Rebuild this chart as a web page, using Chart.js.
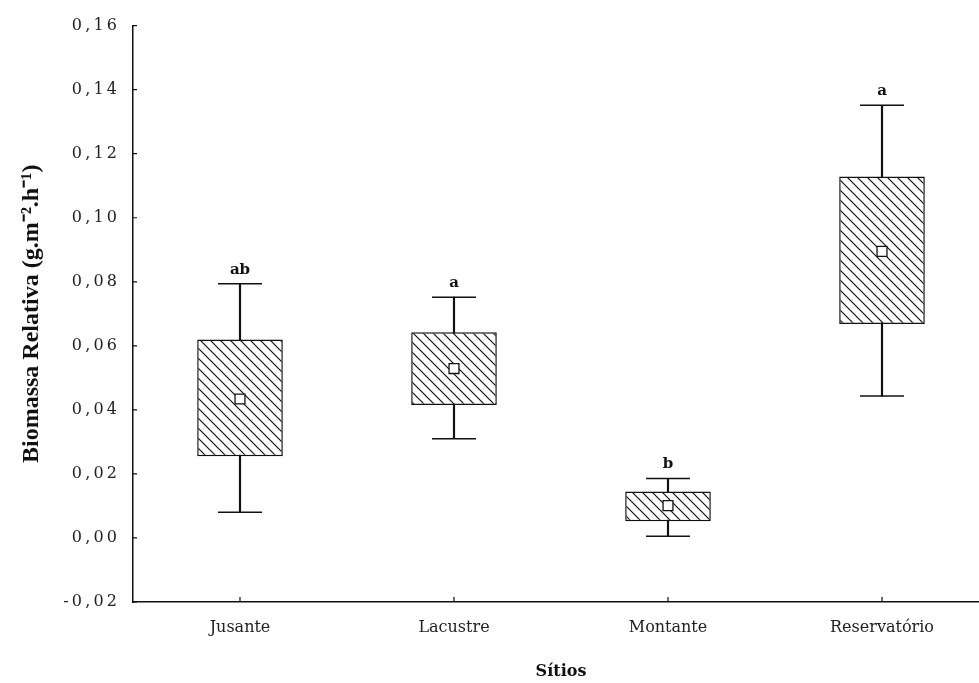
<!DOCTYPE html>
<html>
<head>
<meta charset="utf-8">
<script src="https://cdn.jsdelivr.net/npm/chart.js@4"></script>
<style>
  html, body { margin: 0; padding: 0; background: #fff; overflow: hidden; }
  canvas { display: block; }
</style>
</head>
<body>
<canvas id="boxChart" width="990" height="683"></canvas>
<script>
// data
const categories = ['Jusante', 'Lacustre', 'Montante', 'Reservatório'];
const whiskerLow = [0.008, 0.031, 0.0005, 0.0443];
const boxLow = [0.0255, 0.0415, 0.0052, 0.0668];
const means = [0.0434, 0.0529, 0.0101, 0.0895];
const boxHigh = [0.062, 0.0642, 0.0145, 0.1129];
const whiskerHigh = [0.0794, 0.0752, 0.0186, 0.1351];
const groupLetters = ['ab', 'a', 'b', 'a'];
const yMin = -0.02, yMax = 0.16, yStep = 0.02;

// diagonal hatch for the boxes
function makeHatch() {
    const c = document.createElement('canvas');
    c.width = 10; c.height = 10;
    const g = c.getContext('2d');
    g.fillStyle = '#fff';
    g.fillRect(0, 0, 10, 10);
    g.strokeStyle = '#111';
    g.lineWidth = 1.2;
    g.beginPath();
    g.moveTo(-1, -1); g.lineTo(11, 11);
    g.moveTo(-1, 9); g.lineTo(1, 11);
    g.moveTo(9, -1); g.lineTo(11, 1);
    g.stroke();
    return g.createPattern(c, 'repeat');
}

function fmtTick(v) {
    if (Math.abs(v) < 1e-9) v = 0;
    return v.toFixed(2).replace('.', ',').split('').join('\u2009');
}

// small inward ticks + group letters
const extras = {
    id: 'extras',
    afterDraw(chart) {
        const { ctx, scales: { x, y }, chartArea } = chart;
        ctx.save();
        ctx.strokeStyle = '#111';
        ctx.lineWidth = 1.2;
        ctx.beginPath();
        y.ticks.forEach((t, i) => {
            const py = y.getPixelForTick(i);
            ctx.moveTo(chartArea.left, py);
            ctx.lineTo(chartArea.left + 4, py);
        });
        x.ticks.forEach((t, i) => {
            const px = x.getPixelForTick(i);
            ctx.moveTo(px, chartArea.bottom);
            ctx.lineTo(px, chartArea.bottom - 5);
        });
        ctx.stroke();

        ctx.fillStyle = '#111';
        ctx.font = 'bold 15px "DejaVu Serif"';
        ctx.textAlign = 'center';
        ctx.textBaseline = 'middle';
        groupLetters.forEach((l, i) => {
            ctx.fillText(l, x.getPixelForValue(i), y.getPixelForValue(whiskerHigh[i]) - 14);
        });
        ctx.restore();
    }
};

const ctx = document.getElementById('boxChart').getContext('2d');
new Chart(ctx, {
    data: {
        labels: categories,
        datasets: [
            {
                type: 'line', data: means, showLine: false,
                pointStyle: 'rect', pointRadius: 7, pointBackgroundColor: '#fff',
                pointBorderColor: '#111', pointBorderWidth: 1.3
            },
            {
                type: 'line', data: whiskerHigh, showLine: false,
                pointStyle: 'line', pointRadius: 22, pointBorderColor: '#111', pointBorderWidth: 1.5
            },
            {
                type: 'line', data: whiskerLow, showLine: false,
                pointStyle: 'line', pointRadius: 22, pointBorderColor: '#111', pointBorderWidth: 1.5
            },
            {
                type: 'bar', grouped: false,
                data: boxLow.map((v, i) => [v, boxHigh[i]]),
                backgroundColor: makeHatch(), borderColor: '#111', borderWidth: 1.5,
                borderSkipped: false, barPercentage: 0.4, categoryPercentage: 1
            },
            {
                type: 'bar', grouped: false,
                data: whiskerLow.map((v, i) => [v, whiskerHigh[i]]),
                backgroundColor: '#111', barThickness: 1.5, categoryPercentage: 1
            }
        ]
    },
    options: {
        responsive: false,
        animation: false,
        devicePixelRatio: 1,
        layout: { autoPadding: false, padding: { top: 17, right: 1, left: 0, bottom: 0 } },
        plugins: { legend: { display: false }, tooltip: { enabled: false } },
        scales: {
            x: {
                offset: true,
                grid: { display: false, drawTicks: false },
                border: { display: true, color: '#111', width: 1.5 },
                ticks: { color: '#222', padding: 16, font: { family: 'DejaVu Serif', size: 16 } },
                title: {
                    display: true, text: 'Sítios', color: '#111',
                    font: { family: 'DejaVu Serif', size: 16, weight: 'bold' },
                    padding: { top: 0, bottom: 1.5 }
                },
                afterFit(s) { s.height = 81; }
            },
            y: {
                min: yMin, max: yMax,
                grid: { display: false, drawTicks: false },
                border: { display: true, color: '#111', width: 1.5 },
                ticks: {
                    stepSize: yStep, color: '#222', padding: 16,
                    font: { family: 'DejaVu Serif', size: 16 },
                    callback: v => fmtTick(v)
                },
                title: {
                    display: true, text: 'Biomassa Relativa (g.m⁻².h⁻¹)', color: '#111',
                    font: { family: 'Liberation Serif', size: 24, weight: 'bold' },
                    padding: { top: 17, bottom: 0 }
                },
                afterFit(s) { s.width = 133; }
            }
        }
    },
    plugins: [extras]
});
</script>
</body>
</html>
